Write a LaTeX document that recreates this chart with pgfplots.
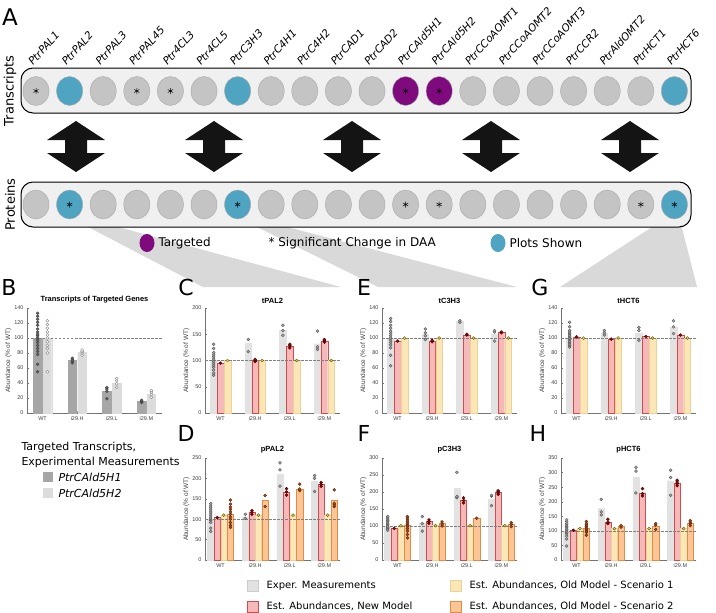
\documentclass[border=0pt]{standalone}
\usepackage{fontspec}
\setmainfont{DejaVu Sans}
\newfontfamily\arial{Liberation Sans}
\usepackage{pgfplots}
\pgfplotsset{compat=1.18}

\definecolor{cgray}{HTML}{C4C4C4}
\definecolor{cgrayd}{HTML}{A8A8A8}
\definecolor{cblue}{HTML}{4FA4C1}
\definecolor{cpurple}{HTML}{7E0A7E}
\definecolor{boxfill}{HTML}{F0F0F0}
\definecolor{zoomfill}{HTML}{D9D9D9}
\definecolor{expbar}{HTML}{E2E2E2}
\definecolor{exppt}{HTML}{A6A6A6}
\definecolor{expptd}{HTML}{505050}
\definecolor{newbar}{HTML}{F6B9B9}
\definecolor{newbard}{HTML}{D24B4B}
\definecolor{newpt}{HTML}{8C0B0B}
\definecolor{newptd}{HTML}{480000}
\definecolor{sabar}{HTML}{FBE6B8}
\definecolor{sabard}{HTML}{EDD195}
\definecolor{sapt}{HTML}{E3D04A}
\definecolor{saptd}{HTML}{5A5200}
\definecolor{sbbar}{HTML}{FCC595}
\definecolor{sbbard}{HTML}{E68B45}
\definecolor{sbpt}{HTML}{A34B1F}
\definecolor{sbptd}{HTML}{5A2608}
\definecolor{hAbar}{HTML}{A6A6A6}
\definecolor{hBbar}{HTML}{DCDCDC}

\pgfplotsset{
  panel/.style={
    anchor=north west, scale only axis, width=135pt,
    axis x line*=bottom, axis y line*=left,
    axis line style={-, draw=black!55, line width=0.4pt},
    xmin=-0.45, xmax=3.45, ymin=0,
    xtick={0,1,2,3}, xticklabels={WT,i29.H,i29.L,i29.M},
    tick align=inside, major tick length=2pt,
    tick style={black!55, line width=0.4pt},
    /pgf/number format/assume math mode=true,
    ticklabel style={font=\arial\fontsize{5.5}{6}\selectfont, text=black!75},
    title style={font=\arial\bfseries\fontsize{7.5}{8}\selectfont, yshift=-5pt},
    ylabel={Abundance (\% of WT)},
    ylabel style={font=\arial\fontsize{6.5}{7}\selectfont, text=black!75, yshift=-4pt},
  },
  ref/.style={dash pattern=on 2.5pt off 1.5pt, black!50, line width=0.5pt},
  bar/.style 2 args={ybar, bar width=0.19, bar shift=0pt, fill=#1, draw=#2, line width=0.4pt},
  pts/.style 2 args={only marks, mark=*, mark size=1.5pt, mark options={fill=#1, draw=#2, line width=0.35pt}},
}

\begin{document}
\begin{tikzpicture}[x=1pt,y=1pt]
\useasboundingbox (0,0) rectangle (716,-613);

% zoom wedges
\fill[zoomfill] (67,-216) -- (77,-216) -- (341,-287) -- (203,-287) -- cycle;
\fill[zoomfill] (235,-216) -- (245,-216) -- (517,-287) -- (378,-287) -- cycle;
\fill[zoomfill] (669,-216) -- (679,-216) -- (697,-287) -- (560,-287) -- cycle;

% row boxes
\draw[fill=boxfill, rounded corners=12pt, line width=1pt] (21,-68) rectangle (691,-113);
\draw[fill=boxfill, rounded corners=12pt, line width=1pt] (21,-182) rectangle (691,-227);

% circles of panel A
\begin{axis}[at={(0pt,0pt)}, anchor=north west, width=716pt, height=613pt, scale only axis,
  xmin=0, xmax=716, ymin=0, ymax=613, y dir=reverse, hide axis, clip=false]
\pgfplotsset{circ/.style={only marks, mark=*, mark size=14.5pt, mark options={xscale=0.9, fill=#1, draw=cgrayd, line width=0.4pt}}}
% transcripts
\addplot[circ=cgray] coordinates {(36,91)(103.2,91)(136.8,91)(170.4,91)(204,91)(271.2,91)(304.8,91)(338.4,91)(372,91)
  (472.8,91)(506.4,91)(540,91)(573.6,91)(607.2,91)(640.8,91)};
\addplot[circ=cblue] coordinates {(69.6,91)(237.6,91)(674.4,91)};
\addplot[circ=cpurple] coordinates {(405.6,91)(439.2,91)};
\addplot[only marks, mark=asterisk, mark size=3pt, black, line width=0.5pt] coordinates {(36,91)(136.8,91)(170.4,91)(405.6,91)(439.2,91)};
% proteins
\addplot[circ=cgray] coordinates {(36,204.5)(103.2,204.5)(136.8,204.5)(170.4,204.5)(204,204.5)(271.2,204.5)(304.8,204.5)(338.4,204.5)(372,204.5)
  (405.6,204.5)(439.2,204.5)(472.8,204.5)(506.4,204.5)(540,204.5)(573.6,204.5)(607.2,204.5)(640.8,204.5)};
\addplot[circ=cblue] coordinates {(69.6,204.5)(237.6,204.5)(674.4,204.5)};
\addplot[only marks, mark=asterisk, mark size=3pt, black, line width=0.5pt] coordinates {(69.6,204.5)(237.6,204.5)(405.6,204.5)(439.2,204.5)(640.8,204.5)(674.4,204.5)};
\end{axis}

% gene names
\foreach \n [count=\i from 0] in {PtrPAL1,PtrPAL2,PtrPAL3,PtrPAL45,Ptr4CL3,Ptr4CL5,PtrC3H3,PtrC4H1,PtrC4H2,PtrCAD1,
  PtrCAD2,PtrCAld5H1,PtrCAld5H2,PtrCCoAOMT1,PtrCCoAOMT2,PtrCCoAOMT3,PtrCCR2,PtrAldOMT2,PtrHCT1,PtrHCT6}
  \node[rotate=48, anchor=base west, inner sep=0pt, font=\itshape\fontsize{10.5}{10.5}\selectfont] at ({33+33.6*\i},-66) {\n};

\node[rotate=90, font=\fontsize{13}{13}\selectfont] at (10,-91) {Transcripts};
\node[rotate=90, font=\fontsize{13}{13}\selectfont] at (10,-204.5) {Proteins};
\node[font=\fontsize{23}{23}\selectfont] at (10,-17) {A};

% double arrows
\foreach \c in {76,214,352,491,630}
  \fill[black!92] (\c,-121) -- (\c+29,-140) -- (\c+11,-140) -- (\c+11,-153) -- (\c+29,-153) -- (\c,-172)
    -- (\c-29,-153) -- (\c-11,-153) -- (\c-11,-140) -- (\c-29,-140) -- cycle;

% key of panel A
\begin{scope}[font=\fontsize{12}{12}\selectfont]
\fill[cpurple] (147,-243) ellipse (7.5 and 9);
\node[anchor=west] at (155,-243) {Targeted};
\node[anchor=west] at (265,-243) {* Significant Change in DAA};
\fill[cblue] (498,-243) ellipse (7.5 and 9);
\node[anchor=west] at (506,-243) {Plots Shown};
\end{scope}

% panel letters
\begin{scope}[font=\fontsize{22}{22}\selectfont]
\node at (9,-287) {B};
\node at (186,-287) {C};
\node at (364,-287) {E};
\node at (540,-287) {G};
\node at (186,-433) {D};
\node at (364,-433) {F};
\node at (538,-433) {H};
\end{scope}

% key of panel B
\begin{scope}[font=\fontsize{11}{11}\selectfont]
\node[anchor=west] at (18,-447) {Targeted Transcripts,};
\node[anchor=west] at (18,-462) {Experimental Measurements};
\fill[hAbar] (43,-472) rectangle (53,-482);
\node[anchor=west, font=\itshape\fontsize{11}{11}\selectfont] at (55,-477) {PtrCAld5H1};
\fill[hBbar] (43,-488) rectangle (53,-498);
\node[anchor=west, font=\itshape\fontsize{11}{11}\selectfont] at (55,-493) {PtrCAld5H2};
\end{scope}

% bottom key
\begin{scope}[font=\fontsize{10}{10}\selectfont]
\draw[fill=expbar, draw=black!20] (247,-580) rectangle (258,-591);
\node[anchor=west] at (263,-585.5) {Exper. Measurements};
\draw[fill=newbar, draw=newbard] (247,-601) rectangle (258,-612);
\node[anchor=west] at (263,-606.5) {Est. Abundances, New Model};
\draw[fill=sabar, draw=sabard] (450,-580) rectangle (461,-591);
\node[anchor=west] at (466,-585.5) {Est. Abundances, Old Model - Scenario 1};
\draw[fill=sbbar, draw=sbbard] (450,-601) rectangle (461,-612);
\node[anchor=west] at (466,-606.5) {Est. Abundances, Old Model - Scenario 2};
\end{scope}

% ---------- B ----------
\begin{axis}[panel, at={(27pt,-308pt)}, height=105pt, ymax=140, ytick={0,20,...,140},
  title={Transcripts of Targeted Genes}]
\addplot[ybar, bar width=0.25, bar shift=0pt, fill=hAbar, draw=hAbar] coordinates {(-0.14,100)(0.86,70)(1.86,29)(2.86,16)};
\addplot[ybar, bar width=0.25, bar shift=0pt, fill=hBbar, draw=hBbar] coordinates {(0.14,100)(1.14,81)(2.14,40)(3.14,25)};
\addplot[ref] coordinates {(-0.45,100)(3.45,100)};
\addplot[pts={black!60}{black!75}] coordinates {(-0.14,55)(-0.14,65)(-0.14,78)(-0.14,82)(-0.14,86)(-0.14,90)(-0.14,94)(-0.14,97)(-0.14,100)
  (-0.14,103)(-0.14,105)(-0.14,108)(-0.14,112)(-0.14,117)(-0.14,121)(-0.14,125)(-0.14,129)(-0.14,133)
  (0.86,67)(0.86,69)(0.86,71)(0.86,73)(1.86,19)(1.86,29)(1.86,32)(1.86,34)(2.86,14)(2.86,15)(2.86,16)(2.86,17)};
\addplot[pts={white}{black!50}] coordinates {(0.14,55)(0.14,80)(0.14,86)(0.14,90)(0.14,95)(0.14,100)(0.14,104)(0.14,108)(0.14,113)(0.14,118)(0.14,123)
  (1.14,77)(1.14,80)(1.14,82)(1.14,84)(2.14,34)(2.14,39)(2.14,43)(2.14,46)(3.14,21)(3.14,25)(3.14,28)(3.14,30)};
\end{axis}

% ---------- C ----------
\begin{axis}[panel, at={(205pt,-308pt)}, height=105pt, ymax=200, ytick={0,50,...,200}, title={tPAL2}]
\addplot[bar={expbar}{expbar}] coordinates {(-0.2,100)(0.8,133)(1.8,157)(2.8,132)};
\addplot[bar={newbar}{newbard}] coordinates {(0,95)(1,101)(2,127)(3,137)};
\addplot[bar={sabar}{sabard}] coordinates {(0.2,100)(1.2,100)(2.2,100)(3.2,100)};
\addplot[ref] coordinates {(-0.45,100)(3.45,100)};
\addplot[pts={exppt}{expptd}] coordinates {(-0.2,72)(-0.2,76)(-0.2,82)(-0.2,87)(-0.2,91)(-0.2,95)(-0.2,99)(-0.2,103)(-0.2,107)(-0.2,111)
  (-0.2,115)(-0.2,123)(-0.2,131)(0.8,117)(0.8,140)(1.8,148)(1.8,157)(1.8,167)(2.8,121)(2.8,126)(2.8,156)};
\addplot[pts={newpt}{newptd}] coordinates {(0,95)(1,98)(1,100)(1,102)(2,124)(2,128)(2,131)(3,135)(3,138)(3,140)};
\addplot[pts={sapt}{saptd}] coordinates {(0.2,100)(1.2,100)(2.2,100)(3.2,100)};
\end{axis}

% ---------- E ----------
\begin{axis}[panel, at={(382pt,-308pt)}, height=105pt, ymax=140, ytick={0,20,...,140}, title={tC3H3}]
\addplot[bar={expbar}{expbar}] coordinates {(-0.2,100)(0.8,105)(1.8,122)(2.8,105)};
\addplot[bar={newbar}{newbard}] coordinates {(0,96)(1,96)(2,104)(3,108)};
\addplot[bar={sabar}{sabard}] coordinates {(0.2,100)(1.2,100)(2.2,100)(3.2,100)};
\addplot[ref] coordinates {(-0.45,100)(3.45,100)};
\addplot[pts={exppt}{expptd}] coordinates {(-0.2,63)(-0.2,77)(-0.2,87)(-0.2,91)(-0.2,94)(-0.2,97)(-0.2,100)(-0.2,103)(-0.2,106)(-0.2,109)
  (-0.2,113)(-0.2,117)(-0.2,122)(-0.2,126)(0.8,98)(0.8,103)(0.8,107)(0.8,112)(1.8,121)(1.8,123)(2.8,96)(2.8,108)(2.8,110)};
\addplot[pts={newpt}{newptd}] coordinates {(0,96)(1,95)(1,97)(2,104)(2,105)(3,107)(3,108)};
\addplot[pts={sapt}{saptd}] coordinates {(0.2,100)(1.2,100)(2.2,100)(3.2,100)};
\end{axis}

% ---------- G ----------
\begin{axis}[panel, at={(561pt,-308pt)}, height=105pt, ymax=140, ytick={0,20,...,140}, title={tHCT6}]
\addplot[bar={expbar}{expbar}] coordinates {(-0.2,100)(0.8,106)(1.8,107)(2.8,115)};
\addplot[bar={newbar}{newbard}] coordinates {(0,101)(1,99)(2,102)(3,104)};
\addplot[bar={sabar}{sabard}] coordinates {(0.2,100)(1.2,100)(2.2,100)(3.2,100)};
\addplot[ref] coordinates {(-0.45,100)(3.45,100)};
\addplot[pts={exppt}{expptd}] coordinates {(-0.2,88)(-0.2,90)(-0.2,92)(-0.2,94)(-0.2,96)(-0.2,98)(-0.2,100)(-0.2,102)(-0.2,104)(-0.2,106)
  (-0.2,108)(-0.2,110)(-0.2,115)(-0.2,121)(0.8,104)(0.8,107)(0.8,110)(1.8,97)(1.8,110)(1.8,114)(2.8,106)(2.8,115)(2.8,123)};
\addplot[pts={newpt}{newptd}] coordinates {(0,101.5)(1,98.5)(2,102)(3,104)};
\addplot[pts={sapt}{saptd}] coordinates {(0.2,100)(1.2,100)(2.2,100)(3.2,100)};
\end{axis}

% ---------- D ----------
\begin{axis}[panel, at={(205pt,-458pt)}, height=102pt, ymax=250, ytick={0,50,...,250}, title={pPAL2}]
\addplot[bar={expbar}{expbar}, bar width=0.18] coordinates {(-0.285,100)(0.715,104)(1.715,211)(2.715,192)};
\addplot[bar={newbar}{newbard}, bar width=0.18] coordinates {(-0.095,104)(0.905,116)(1.905,167)(2.905,185)};
\addplot[bar={sabar}{sabard}, bar width=0.18] coordinates {(0.095,110)(1.095,110)(2.095,110)(3.095,110)};
\addplot[bar={sbbar}{sbbard}, bar width=0.18] coordinates {(0.285,112)(1.285,147)(2.285,173)(3.285,147)};
\addplot[ref] coordinates {(-0.45,100)(3.45,100)};
\addplot[pts={exppt}{expptd}] coordinates {(-0.285,70)(-0.285,78)(-0.285,92)(-0.285,97)(-0.285,100)(-0.285,103)(-0.285,108)(-0.285,113)
  (-0.285,118)(-0.285,123)(-0.285,128)(-0.285,133)(-0.285,138)(0.715,102)(0.715,112)(1.715,181)(1.715,221)(1.715,238)
  (2.715,168)(2.715,200)(2.715,207)};
\addplot[pts={newpt}{newptd}] coordinates {(-0.095,104)(0.905,112)(0.905,117)(0.905,121)(1.905,159)(1.905,167)(1.905,175)
  (2.905,181)(2.905,185)(2.905,190)};
\addplot[pts={sapt}{saptd}] coordinates {(0.095,110)(1.095,110)(2.095,110)(3.095,110)};
\addplot[pts={sbpt}{sbptd}] coordinates {(0.285,80)(0.285,85)(0.285,92)(0.285,100)(0.285,106)(0.285,112)(0.285,118)(0.285,124)(0.285,130)
  (0.285,137)(0.285,147)(1.285,131)(1.285,158)(2.285,170)(2.285,174)(2.285,186)(3.285,131)(3.285,135)(3.285,139)(3.285,172)};
\end{axis}

% ---------- F ----------
\begin{axis}[panel, at={(382pt,-458pt)}, height=102pt, ymax=300, ytick={0,50,...,300}, title={pC3H3}]
\addplot[bar={expbar}{expbar}, bar width=0.18] coordinates {(-0.285,100)(0.715,107)(1.715,210)(2.715,179)};
\addplot[bar={newbar}{newbard}, bar width=0.18] coordinates {(-0.095,93)(0.905,113)(1.905,175)(2.905,198)};
\addplot[bar={sabar}{sabard}, bar width=0.18] coordinates {(0.095,101)(1.095,101)(2.095,101)(3.095,101)};
\addplot[bar={sbbar}{sbbard}, bar width=0.18] coordinates {(0.285,103)(1.285,108)(2.285,123)(3.285,105)};
\addplot[ref] coordinates {(-0.45,100)(3.45,100)};
\addplot[pts={exppt}{expptd}] coordinates {(-0.285,88)(-0.285,92)(-0.285,96)(-0.285,100)(-0.285,104)(-0.285,108)(-0.285,112)(-0.285,116)
  (-0.285,120)(-0.285,124)(-0.285,128)(0.715,85)(0.715,107)(0.715,128)(1.715,183)(1.715,187)(1.715,258)(2.715,160)(2.715,188)(2.715,190)};
\addplot[pts={newpt}{newptd}] coordinates {(-0.095,93)(0.905,108)(0.905,113)(0.905,118)(1.905,168)(1.905,175)(1.905,183)
  (2.905,193)(2.905,197)(2.905,201)(2.905,204)};
\addplot[pts={sapt}{saptd}] coordinates {(0.095,101)(1.095,101)(2.095,101)(3.095,101)};
\addplot[pts={sbpt}{sbptd}] coordinates {(0.285,65)(0.285,75)(0.285,85)(0.285,92)(0.285,98)(0.285,103)(0.285,108)(0.285,113)(0.285,118)
  (0.285,123)(0.285,128)(1.285,100)(1.285,106)(1.285,112)(2.285,123)(3.285,98)(3.285,105)(3.285,110)};
\end{axis}

% ---------- H ----------
\begin{axis}[panel, at={(561pt,-458pt)}, height=102pt, ymax=350, ytick={0,50,...,350}, title={pHCT6}]
\addplot[bar={expbar}{expbar}, bar width=0.18] coordinates {(-0.285,100)(0.715,177)(1.715,283)(2.715,272)};
\addplot[bar={newbar}{newbard}, bar width=0.18] coordinates {(-0.095,101)(0.905,130)(1.905,230)(2.905,265)};
\addplot[bar={sabar}{sabard}, bar width=0.18] coordinates {(0.095,108)(1.095,108)(2.095,108)(3.095,108)};
\addplot[bar={sbbar}{sbbard}, bar width=0.18] coordinates {(0.285,108)(1.285,115)(2.285,117)(3.285,125)};
\addplot[ref] coordinates {(-0.45,100)(3.45,100)};
\addplot[pts={exppt}{expptd}] coordinates {(-0.285,48)(-0.285,72)(-0.285,82)(-0.285,90)(-0.285,95)(-0.285,100)(-0.285,105)(-0.285,110)
  (-0.285,115)(-0.285,120)(-0.285,125)(-0.285,132)(-0.285,138)(0.715,155)(0.715,165)(0.715,208)(1.715,230)(1.715,305)(1.715,318)
  (2.715,222)(2.715,283)(2.715,308)};
\addplot[pts={newpt}{newptd}] coordinates {(-0.095,102)(0.905,125)(0.905,130)(0.905,140)(1.905,220)(1.905,228)(1.905,245)
  (2.905,255)(2.905,262)(2.905,268)(2.905,274)};
\addplot[pts={sapt}{saptd}] coordinates {(0.095,108)(1.095,108)(2.095,108)(3.095,108)};
\addplot[pts={sbpt}{sbptd}] coordinates {(0.285,85)(0.285,95)(0.285,100)(0.285,105)(0.285,110)(0.285,115)(0.285,120)(0.285,125)(0.285,132)
  (1.285,113)(1.285,118)(2.285,105)(2.285,120)(2.285,125)(3.285,118)(3.285,125)(3.285,130)(3.285,135)};
\end{axis}
\end{tikzpicture}
\end{document}
